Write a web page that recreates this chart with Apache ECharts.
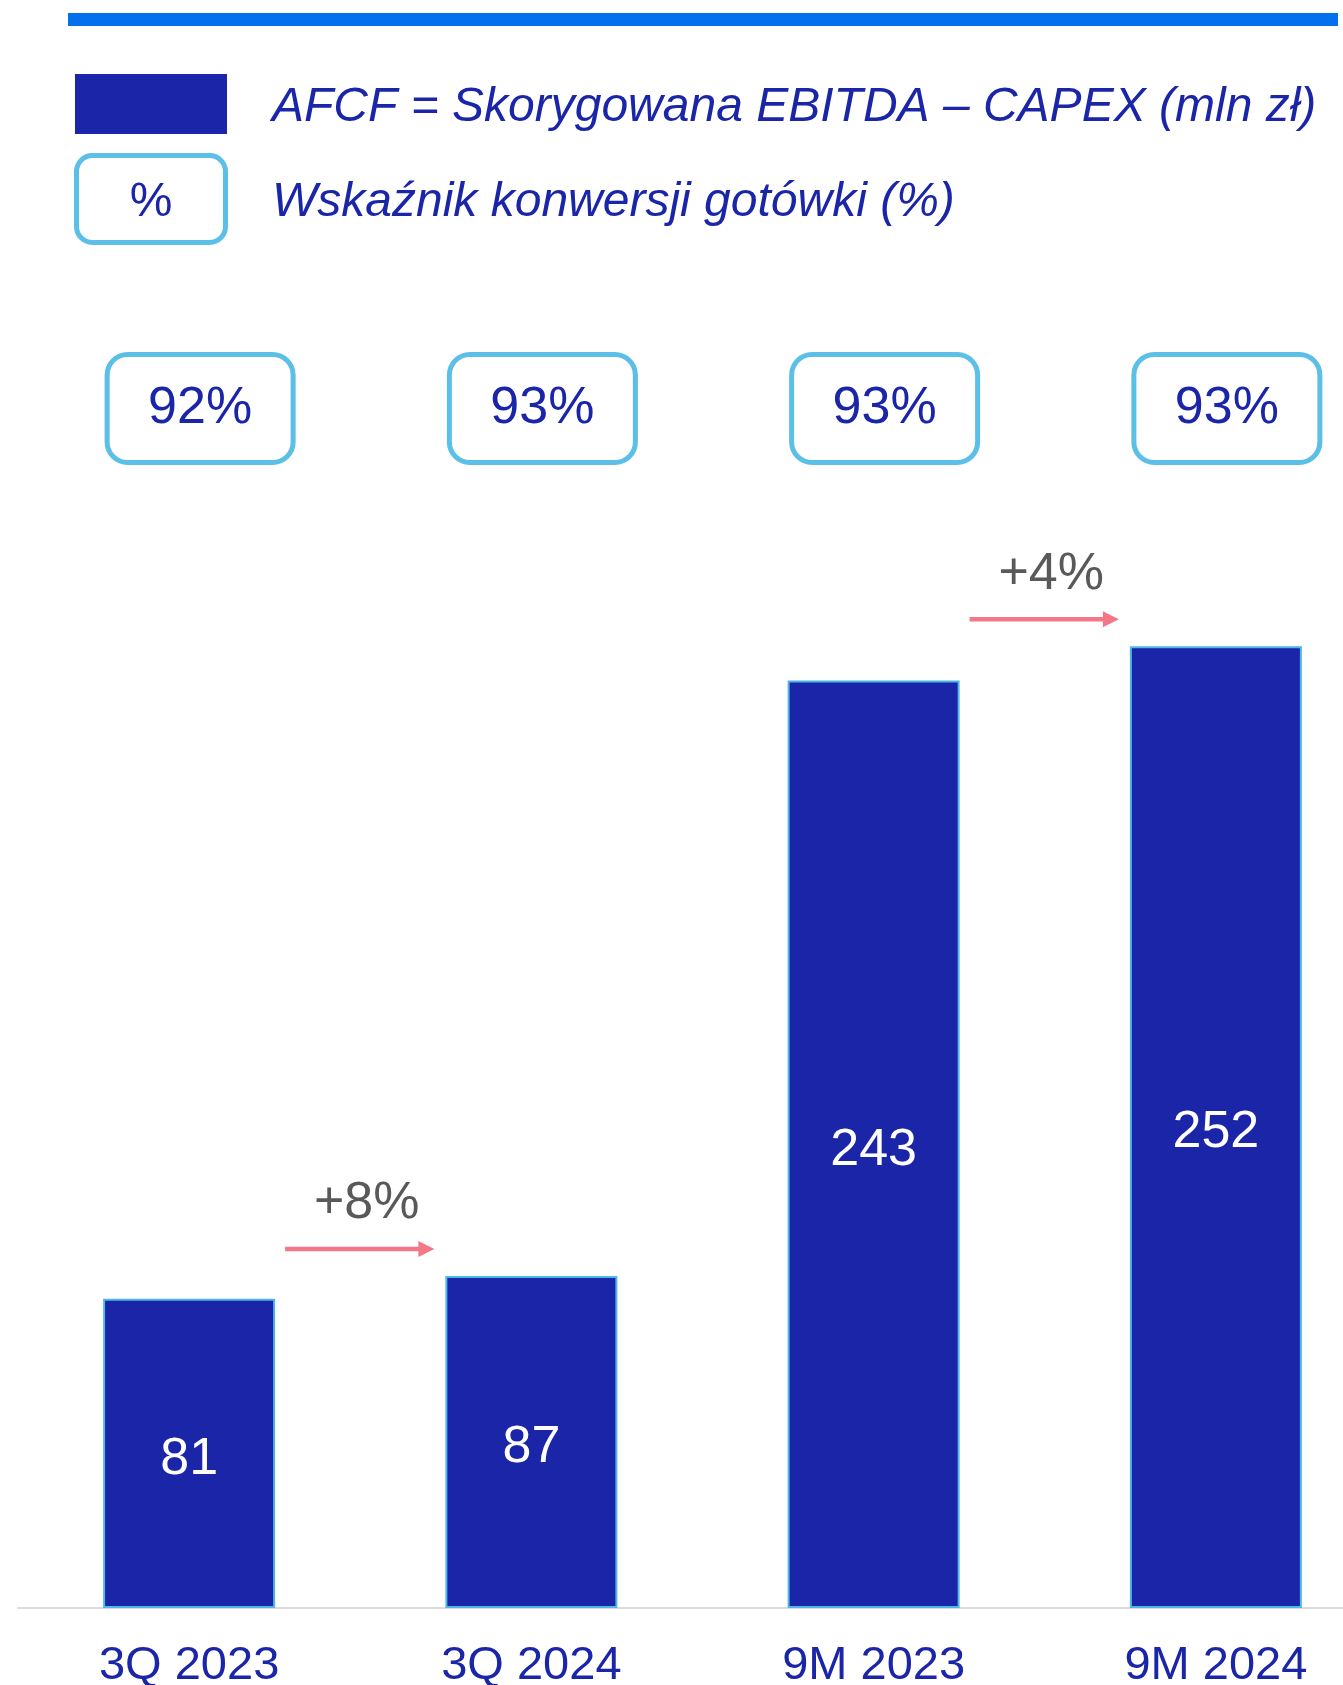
<!DOCTYPE html>
<html>
<head>
<meta charset="utf-8">
<script src="https://cdn.jsdelivr.net/npm/echarts@6/dist/echarts.min.js"></script>
<style>
  html, body { margin: 0; padding: 0; background: #fff; overflow: hidden; }
  #main { width: 1388px; height: 1685px; }
</style>
</head>
<body>
<div id="main"></div>
<script>
var categories = ["3Q 2023", "3Q 2024", "9M 2023", "9M 2024"];
var afcf = [81, 87, 243, 252];
var conversion = ["92%", "93%", "93%", "93%"];
// growth arrows: from index, to index, value of target bar
var growth = [[0, 1, 87], [2, 3, 252]];
var growthLabels = ["+8%", "+4%"];

var legendBar = "AFCF = Skorygowana EBITDA \u2013 CAPEX (mln z\u0142)";
var legendPct = "Wska\u017anik konwersji got\u00f3wki (%)";

var NAVY = "#1A25A8";
var SKY = "#5BBFE8";
var FONT = '"Liberation Sans", Arial, sans-serif';
var BAR_W = 172;

var myChart = echarts.init(document.getElementById("main"));

var option = {
  animation: false,
  backgroundColor: "#fff",
  textStyle: { fontFamily: FONT },
  // the last band runs past the 1343px window, as in the original slide
  grid: { left: 18, top: 463, bottom: 77, width: 1369, outerBoundsMode: "none", containLabel: false },
  xAxis: [
    {
      type: "category",
      data: categories,
      axisLine: { lineStyle: { color: "#DCDCDC", width: 2 } },
      axisTick: { show: false },
      axisLabel: { color: NAVY, fontSize: 47, margin: 35, fontFamily: FONT }
    },
    {
      type: "category",
      position: "top",
      data: conversion,
      axisLine: { show: false },
      axisTick: { show: false },
      axisLabel: {
        margin: 3,
        padding: [0, 0, 0, 22],
        formatter: function (v) { return "{b|" + v + "}"; },
        rich: {
          b: {
            color: NAVY,
            fontSize: 52,
            fontFamily: FONT,
            width: 181,
            height: 103,
            lineHeight: 103,
            align: "center",
            backgroundColor: "#fff",
            borderColor: SKY,
            borderWidth: 5,
            borderRadius: 18
          }
        }
      }
    }
  ],
  yAxis: { type: "value", min: 0, max: 300, show: false, splitLine: { show: false } },
  series: [
    {
      name: "AFCF",
      type: "bar",
      data: afcf,
      barWidth: BAR_W,
      itemStyle: { color: NAVY, borderColor: "#4DB8E8", borderWidth: 2 },
      label: { show: true, position: "inside", offset: [0, 6], color: "#fff", fontSize: 52, fontFamily: FONT }
    },
    {
      type: "custom",
      coordinateSystem: "cartesian2d",
      data: growth,
      encode: { x: 0, y: 2 },
      renderItem: function (params, api) {
        var pFrom = api.coord([api.value(0), api.value(2)]);
        var pTo = api.coord([api.value(1), api.value(2)]);
        var x1 = pFrom[0] + BAR_W / 2 + 10;
        var x2 = pTo[0] - BAR_W / 2 - 11;
        var y = pTo[1] - 27;
        var col = "#F27888";
        return {
          type: "group",
          children: [
            { type: "line", shape: { x1: x1, y1: y, x2: x2 - 12, y2: y }, style: { stroke: col, lineWidth: 4.5 } },
            { type: "polygon", shape: { points: [[x2 - 16, y - 8], [x2, y], [x2 - 16, y + 8]] }, style: { fill: col } },
            {
              type: "text",
              style: {
                text: growthLabels[params.dataIndex],
                x: (x1 + x2) / 2 + 7,
                y: y - 45,
                align: "center",
                verticalAlign: "middle",
                fontSize: 52,
                fontFamily: FONT,
                fill: "#595959"
              }
            }
          ]
        };
      }
    }
  ],
  graphic: [
    { type: "rect", shape: { x: 68, y: 13, width: 1270, height: 13 }, style: { fill: "#0370EE" } },
    { type: "rect", shape: { x: 75, y: 74, width: 152, height: 60 }, style: { fill: NAVY } },
    {
      type: "text",
      style: { text: legendBar, x: 272, y: 108, verticalAlign: "middle", font: "italic 48px " + FONT, fill: NAVY }
    },
    {
      type: "rect",
      shape: { x: 76.5, y: 155.5, width: 149, height: 87, r: 16 },
      style: { fill: "#fff", stroke: SKY, lineWidth: 5 }
    },
    {
      type: "text",
      style: { text: "%", x: 151, y: 203, align: "center", verticalAlign: "middle", font: "48px " + FONT, fill: NAVY }
    },
    {
      type: "text",
      style: { text: legendPct, x: 272, y: 203, verticalAlign: "middle", font: "italic 48px " + FONT, fill: NAVY }
    }
  ]
};

myChart.setOption(option);
</script>
</body>
</html>
